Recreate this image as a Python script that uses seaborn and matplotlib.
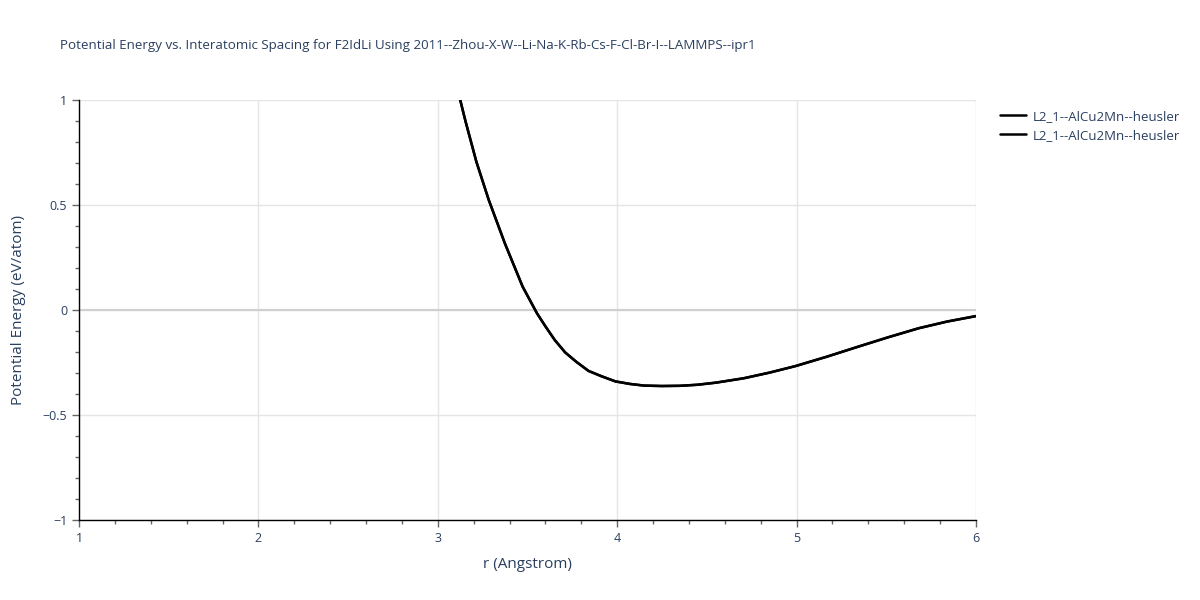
import matplotlib.pyplot as plt
import pandas as pd
import seaborn as sns
from matplotlib.ticker import MultipleLocator, FixedFormatter, FixedLocator

# datos
r_vals = [3.10, 3.125, 3.155, 3.215, 3.284, 3.374, 3.473, 3.553, 3.60, 3.652, 3.71,
          3.771, 3.84, 3.911, 3.99, 4.070, 4.15, 4.248, 4.35, 4.447, 4.55, 4.706,
          4.85, 4.994, 5.17, 5.342, 5.51, 5.680, 5.839, 6.0]
e_vals = [1.09, 1.0, 0.897, 0.706, 0.524, 0.317, 0.111, -0.016, -0.078, -0.143, -0.202,
          -0.246, -0.290, -0.315, -0.340, -0.352, -0.360, -0.362, -0.361, -0.356, -0.346, -0.325,
          -0.298, -0.267, -0.222, -0.175, -0.130, -0.087, -0.055, -0.029]
series_names = ["L2_1--AlCu2Mn--heusler", "L2_1--AlCu2Mn--heusler"]
y_ticks = [-1, -0.5, 0, 0.5, 1]
y_tick_labels = ["\u22121", "\u22120.5", "0", "0.5", "1"]

title = "Potential Energy vs. Interatomic Spacing for F2IdLi Using 2011--Zhou-X-W--Li-Na-K-Rb-Cs-F-Cl-Br-I--LAMMPS--ipr1"
text_col = "#2a3f5f"

data = pd.DataFrame({"r": r_vals, "E": e_vals})

sns.set_style("white")
plt.rcParams['font.family'] = ['Open Sans', 'DejaVu Sans']

fig, ax = plt.subplots(figsize=(12, 6), dpi=100)
fig.subplots_adjust(left=79/1200, right=976/1200, top=1-100/600, bottom=1-520/600)

for name in series_names:
    sns.lineplot(x="r", y="E", data=data, ax=ax, color="black", linewidth=1.8, label=name)

ax.set_xlim(1, 6)
ax.set_ylim(-1, 1)
ax.xaxis.set_major_locator(MultipleLocator(1))
ax.xaxis.set_minor_locator(MultipleLocator(0.2))
ax.yaxis.set_major_locator(FixedLocator(y_ticks))
ax.yaxis.set_major_formatter(FixedFormatter(y_tick_labels))
ax.yaxis.set_minor_locator(MultipleLocator(0.1))

ax.grid(True, which="major", color="#e5e5e5", linewidth=1)
ax.axhline(0, color="#d0d0d0", linewidth=1.5, zorder=1)

for s in ["top", "right"]:
    ax.spines[s].set_visible(False)
for s in ["left", "bottom"]:
    ax.spines[s].set_color("black")
    ax.spines[s].set_linewidth(1)

ax.tick_params(which="major", direction="out", length=5, color="#666666", width=1,
               labelsize=9, labelcolor=text_col, left=True, bottom=True)
ax.tick_params(which="minor", direction="out", length=3, color="#666666", width=1,
               left=True, bottom=True)

ax.set_xlabel("r (Angstrom)", fontsize=11, color=text_col, labelpad=9)
ax.set_ylabel("Potential Energy (eV/atom)", fontsize=11, color=text_col, labelpad=12)
fig.text(60/1200, 1-45/600, title, fontsize=9.6, color=text_col, va="center")

leg = ax.legend(loc="upper left", bbox_to_anchor=(988/1200, 1-98/600),
                bbox_transform=fig.transFigure, frameon=False, fontsize=9.5,
                handlelength=2.0, handletextpad=0.5, labelspacing=0.45)
for t in leg.get_texts():
    t.set_color(text_col)

fig.savefig("out.png", dpi=100)
